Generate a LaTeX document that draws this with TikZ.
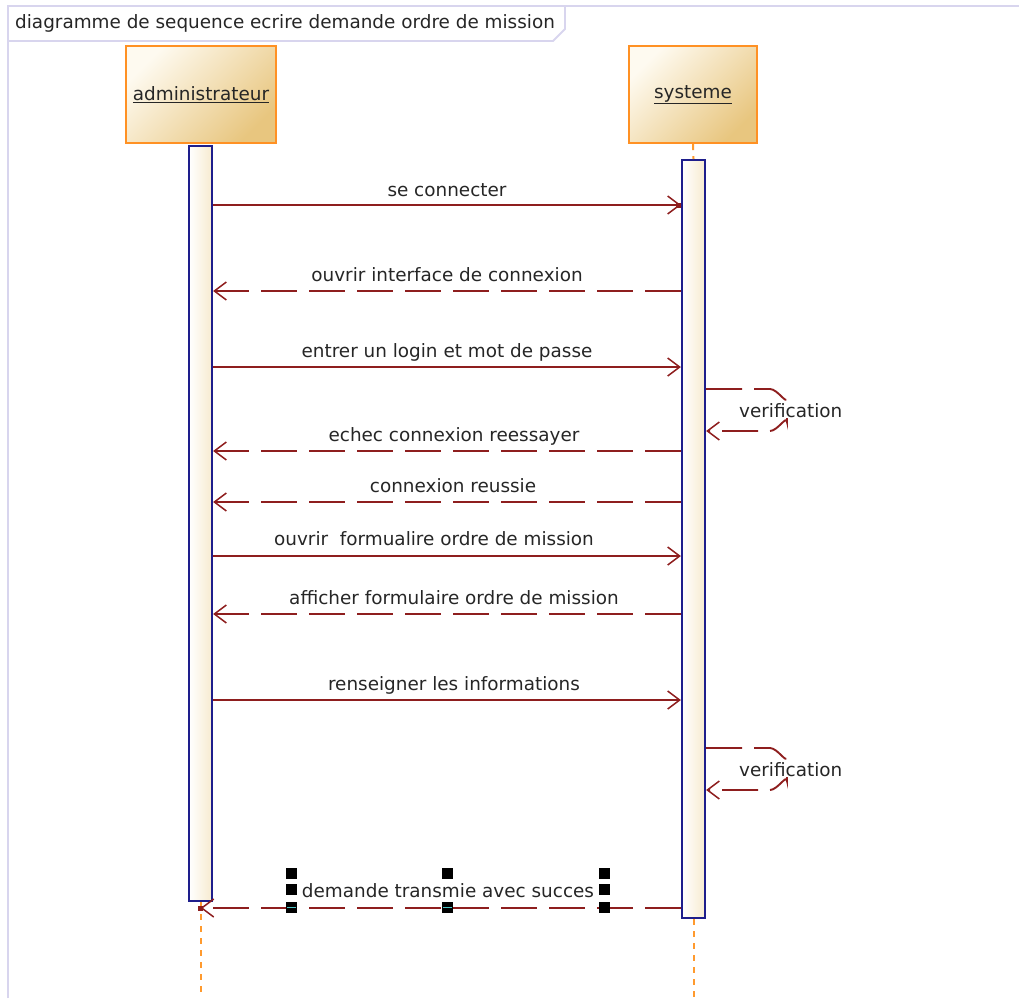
\documentclass[tikz,border=0pt]{standalone}
\usepackage{fontspec}
\setmainfont{DejaVu Sans}
\usetikzlibrary{arrows.meta}
\definecolor{frameC}{HTML}{D8D5EE}
\definecolor{msgC}{HTML}{8E1E1E}
\definecolor{barC}{HTML}{1E1E8C}
\definecolor{barR}{HTML}{F7EBD0}
\definecolor{lifeC}{HTML}{FF9A2E}
\definecolor{boxC}{HTML}{FF9124}
\definecolor{boxL}{HTML}{FEFAF0}
\definecolor{boxD}{HTML}{E8C67F}
\definecolor{txtC}{HTML}{262626}
\definecolor{selC}{HTML}{4FC8C8}

\begin{document}
\begin{tikzpicture}[x=1pt, y=-1pt,
  font=\fontsize{18.4}{22}\selectfont,
  actor/.style={draw=boxC, line width=2.2pt, top color=boxL, bottom color=boxD,
    shading angle=45, minimum height=97pt, inner sep=0pt, text=txtC},
  actbar/.style={draw=barC, line width=2.2pt, left color=white, right color=barR,
    minimum width=23pt, inner sep=0pt, anchor=north},
  lifeline/.style={draw=lifeC, line width=2pt, dash pattern=on 6pt off 6pt},
  msg/.style={draw=msgC, line width=1.9pt,
    -{Straight Barb[length=12pt, width=18pt, line width=1.5pt]}},
  ret/.style={msg, dash pattern=on 36pt off 12pt},
  lbl/.style={anchor=base, inner sep=0pt, text=txtC},
  tipdot/.style={fill=msgC, minimum size=5pt, inner sep=0pt},
  handle/.style={fill=black, minimum size=11pt, inner sep=0pt}]

% page area
\useasboundingbox (0,0) rectangle (1019,998);

% diagram frame and title tab
\draw[frameC, line width=2.4pt] (8,998) -- (8,6) -- (1019,6);
\draw[frameC, line width=1.8pt] (8,41) -- (553,41) -- (565,29) -- (565,6);
\node[anchor=base west, inner sep=0pt, text=txtC] (title) at (15,29)
  {diagramme de sequence ecrire demande ordre de mission};

% participants
\node[actor, minimum width=150pt] (admin) at (201,94.5) {\underline{administrateur}};
\node[actor, minimum width=128pt] (sys) at (693,94.5) {\underline{systeme}};

% activation bars
\node[actbar, minimum height=755pt] (abar) at (200.5,145) {};
\node[actbar, minimum height=758pt] (sbar) at (693.5,159) {};

% lifelines
\draw[lifeline] (sys.south) -- (sbar.north);
\draw[lifeline] (abar.south) -- (abar.south |- 0,998);
\draw[lifeline] (sbar.south) -- (sbar.south |- 0,998);

% messages
\draw[msg] (abar.east |- 0,205) -- (sbar.west |- 0,205);
\node[tipdot] (d1) at ([xshift=-2pt]sbar.west |- 0,205) {};
\node[lbl] (m1) at (447,196) {se connecter};

\draw[ret] (sbar.west |- 0,291) -- (abar.east |- 0,291);
\node[lbl] (m2) at (447,281) {ouvrir interface de connexion};

\draw[msg] (abar.east |- 0,367) -- (sbar.west |- 0,367);
\node[lbl] (m3) at (447,357) {entrer un login et mot de passe};

% self call: verification (1)
\draw[ret] (sbar.east |- 0,389) -- (770,389) to[out=0,in=-90] (787,398)
  -- (787,422) to[out=90,in=0] (770,431) -- (sbar.east |- 0,431);
\node[anchor=base west, inner sep=1pt, fill=white, text=txtC] (v1) at (738,417) {verification};

\draw[ret] (sbar.west |- 0,451) -- (abar.east |- 0,451);
\node[lbl] (m4) at (454,441) {echec connexion reessayer};

\draw[ret] (sbar.west |- 0,502) -- (abar.east |- 0,502);
\node[lbl] (m5) at (453,492) {connexion reussie};

\draw[msg] (abar.east |- 0,556) -- (sbar.west |- 0,556);
\node[lbl] (m6) at (434,545) {ouvrir~ formualire ordre de mission};

\draw[ret] (sbar.west |- 0,614) -- (abar.east |- 0,614);
\node[lbl] (m7) at (454,604) {afficher formulaire ordre de mission};

\draw[msg] (abar.east |- 0,700) -- (sbar.west |- 0,700);
\node[lbl] (m8) at (454,690) {renseigner les informations};

% self call: verification (2)
\draw[ret] (sbar.east |- 0,748) -- (770,748) to[out=0,in=-90] (787,757)
  -- (787,781) to[out=90,in=0] (770,790) -- (sbar.east |- 0,790);
\node[anchor=base west, inner sep=1pt, fill=white, text=txtC] (v2) at (738,776) {verification};

% final reply to the administrator lifeline
\draw[ret] (sbar.west |- 0,908) -- (abar.south |- 0,908);
\node[tipdot] (d2) at (abar.south |- 0,908) {};
\node[lbl] (m9) at (448,897) {demande transmie avec succes};

% selection handles around the last label
\foreach \hx [count=\i] in {291.5,447.5,604} {
  \node[handle] (ha\i) at (\hx,873.5) {};
  \node[handle] (hc\i) at (\hx,907.5) {};
}
\node[handle] (hb1) at (291.5,889) {};
\node[handle] (hb3) at (604,889) {};
\draw[selC, line width=1.8pt] ([xshift=1.5pt]hc1.west) -- ([xshift=-1.5pt]hc1.east);
\draw[selC, line width=1.8pt] ([xshift=1.5pt]hc2.west) -- ([xshift=-1.5pt]hc2.east);
\end{tikzpicture}
\end{document}
